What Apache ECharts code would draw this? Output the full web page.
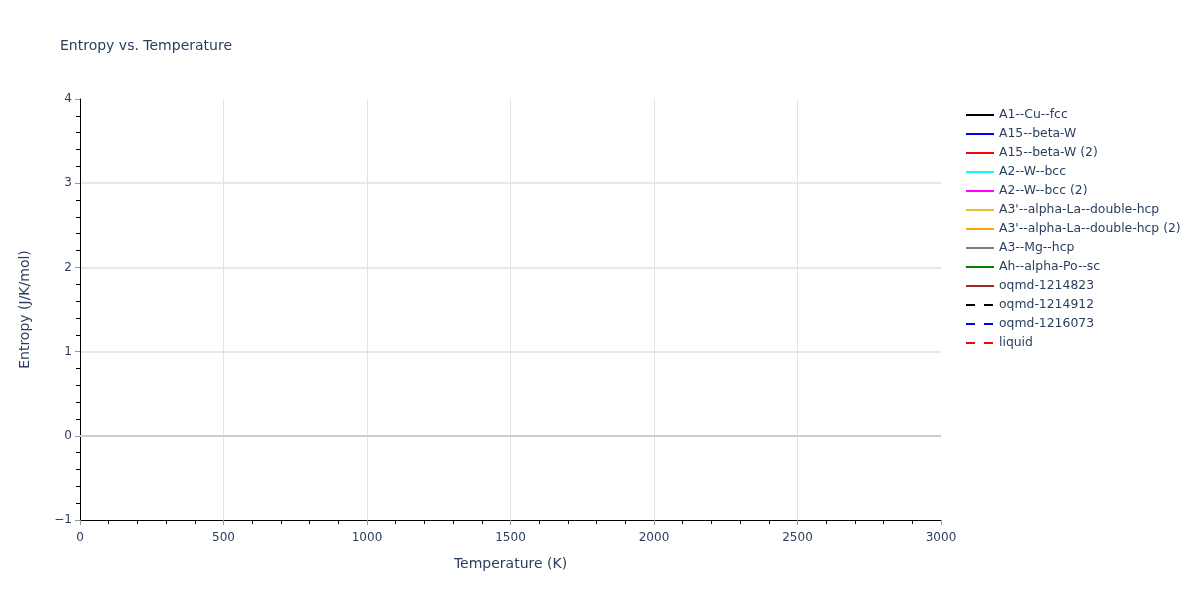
<!DOCTYPE html>
<html>
<head>
<meta charset="utf-8">
<script src="https://cdn.jsdelivr.net/npm/echarts@6/dist/echarts.min.js"></script>
<style>html,body{margin:0;padding:0;background:#fff}#c{width:1200px;height:600px}</style>
</head>
<body>
<div id="c"></div>
<script>
// Data (the reference shows no plotted curves: every series is empty)
var temperatures = [];
var seriesNames = ["A1--Cu--fcc","A15--beta-W","A15--beta-W (2)","A2--W--bcc","A2--W--bcc (2)",
  "A3'--alpha-La--double-hcp","A3'--alpha-La--double-hcp (2)","A3--Mg--hcp","Ah--alpha-Po--sc",
  "oqmd-1214823","oqmd-1214912","oqmd-1216073","liquid"];
var seriesValues = [[],[],[],[],[],[],[],[],[],[],[],[],[]];
var seriesColors = ["#000000","#0000ff","#ff0000","#00ffff","#ff00ff","#e6c229","#ffa500","#808080","#008000","#a52a2a","#000000","#0000ff","#ff0000"];
var seriesDash = ["solid","solid","solid","solid","solid","solid","solid","solid","solid","solid",[9,9],[9,9],[9,9]];
var xTicks = [0,500,1000,1500,2000,2500,3000];
var yTicks = [-1,0,1,2,3,4];

var font = "'DejaVu Sans', Verdana, sans-serif";
var txt = "#2a3f5f";
var chart = echarts.init(document.getElementById('c'));
var series = seriesNames.map(function(n,i){
  var s = {
    name:n, type:'line', symbol:'none', showSymbol:false, silent:true,
    data: seriesValues[i].map(function(v,j){return [temperatures[j], v];}),
    lineStyle:{color:seriesColors[i], width:2, type:seriesDash[i]},
    itemStyle:{color:seriesColors[i]}
  };
  if(i===0){
    s.markLine = {silent:true, symbol:'none', label:{show:false},
      lineStyle:{color:'#cccccc', width:2, type:'solid'},
      data:[{yAxis:0}], animation:false};
  }
  return s;
});
chart.setOption({
  animation:false,
  backgroundColor:'#fff',
  title:{text:'Entropy vs. Temperature', left:55, top:34,
    textStyle:{fontFamily:font, fontSize:14, fontWeight:'normal', color:txt}},
  grid:{left:80, right:259, top:99, bottom:80, containLabel:false},
  legend:{orient:'vertical', left:960, top:104, itemWidth:28, itemHeight:12, itemGap:7,
    itemStyle:{opacity:0},
    lineStyle:{width:2},
    textStyle:{fontFamily:font, fontSize:12.4, color:txt},
    data:seriesNames},
  xAxis:{type:'value', min:xTicks[0], max:xTicks[xTicks.length-1], interval:500,
    name:'Temperature (K)', nameLocation:'middle', nameGap:37,
    nameTextStyle:{fontFamily:font, fontSize:14, color:txt},
    axisLine:{show:true, onZero:false, lineStyle:{color:'#000', width:1}},
    axisTick:{show:true, length:5, lineStyle:{color:'#999'}},
    minorTick:{show:true, splitNumber:5, length:4, lineStyle:{color:'#000'}},
    axisLabel:{fontFamily:font, fontSize:12, color:txt, margin:12,
      formatter:function(v){return String(v);}},
    splitLine:{show:true, showMinLine:false, showMaxLine:false, lineStyle:{color:'#e3e3e3', width:1}}},
  yAxis:{type:'value', min:yTicks[0], max:yTicks[yTicks.length-1], interval:1,
    name:'Entropy (J/K/mol)', nameLocation:'middle', nameGap:48,
    nameTextStyle:{fontFamily:font, fontSize:14, color:txt},
    axisLine:{show:true, onZero:false, lineStyle:{color:'#000', width:1}},
    axisTick:{show:true, length:5, lineStyle:{color:'#999'}},
    minorTick:{show:true, splitNumber:5, length:4, lineStyle:{color:'#000'}},
    axisLabel:{fontFamily:font, fontSize:12, color:txt, margin:8,
      formatter:function(v){return v<0 ? '\u2212'+Math.abs(v) : String(v);}},
    splitLine:{show:true, showMinLine:false, showMaxLine:false, lineStyle:{color:'#e8e8e8', width:2}}},
  series:series
});
</script>
</body>
</html>
